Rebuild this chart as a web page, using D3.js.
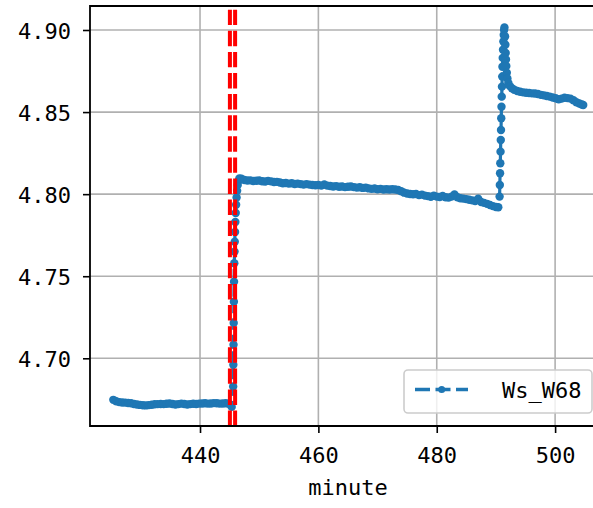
<!DOCTYPE html>
<html><head><meta charset="utf-8">
<script src="https://cdn.jsdelivr.net/npm/d3@7"></script>
<style>body{margin:0;background:#fff}svg{display:block}</style>
</head><body>
<svg id="chart" width="593" height="508"></svg>
<script>
// ---- data ----
// baseline before the step
const minutesA = [425.35,425.85,426.35,426.85,427.35,427.85,428.35,428.85,429.35,429.85,
  430.35,430.85,431.35,431.85,432.35,432.85,433.35,433.85,434.35,434.85,
  435.35,435.85,436.35,436.85,437.35,437.85,438.35,438.85,439.35,439.85,
  440.35,440.85,441.35,441.85,442.35,442.85,443.35,443.85,444.35,444.85,445.35];
const valuesA = [4.6747,4.6738,4.6733,4.6731,4.6730,4.6728,4.6726,4.6722,4.6719,4.6716,
  4.6714,4.6713,4.6715,4.6717,4.6720,4.6721,4.6722,4.6721,4.6723,4.6725,
  4.6722,4.6719,4.6721,4.6724,4.6722,4.6719,4.6721,4.6723,4.6722,4.6724,
  4.6725,4.6726,4.6724,4.6725,4.6727,4.6726,4.6724,4.6725,4.6726,4.6723,4.6704];
// first step up
const minutesB = [445.60,445.63,445.66,445.69,445.72,445.75,445.79,445.83,445.87,445.92,
  445.97,446.03,446.10,446.18,446.27,446.37,446.50,446.65];
const valuesB = [4.6828,4.6960,4.7082,4.7215,4.7345,4.7467,4.7579,4.7650,4.7710,4.7770,
  4.7830,4.7885,4.7935,4.7980,4.8020,4.8055,4.8080,4.8095];
// plateau
const minutesC = [447.0,447.5,448.0,448.5,449.0,449.5,450.0,450.5,451.0,451.5,
  452.0,452.5,453.0,453.5,454.0,454.5,455.0,455.5,456.0,456.5,
  457.0,457.5,458.0,458.5,459.0,459.5,460.0,460.5,461.0,461.5,
  462.0,462.5,463.0,463.5,464.0,464.5,465.0,465.5,466.0,466.5,
  467.0,467.5,468.0,468.5,469.0,469.5,470.0,470.5,471.0,471.5,
  472.0,472.5,473.0,473.5,474.0,474.5,475.0,475.5,476.0,476.5,
  477.0,477.5,478.0,478.5,479.0,479.5,480.0,480.5,481.0,481.5,
  482.0,482.5,483.0,483.5,484.0,484.5,485.0,485.5,486.0,486.5,
  487.0,487.5,488.0,488.5,489.0,489.5,490.0];
const valuesC = [4.8094,4.8086,4.8083,4.8084,4.8080,4.8082,4.8083,4.8079,4.8077,4.8081,
  4.8078,4.8074,4.8075,4.8071,4.8066,4.8068,4.8064,4.8066,4.8062,4.8064,
  4.8061,4.8058,4.8061,4.8058,4.8056,4.8054,4.8056,4.8052,4.8059,4.8052,
  4.8050,4.8047,4.8049,4.8045,4.8047,4.8043,4.8045,4.8047,4.8043,4.8040,
  4.8042,4.8038,4.8040,4.8035,4.8032,4.8034,4.8030,4.8032,4.8028,4.8030,
  4.8028,4.8030,4.8028,4.8025,4.8018,4.8009,4.8004,4.8001,4.7999,4.8001,
  4.7994,4.7997,4.7991,4.7988,4.7984,4.7990,4.7985,4.7983,4.7989,4.7981,
  4.7979,4.7985,4.7998,4.7981,4.7975,4.7973,4.7970,4.7966,4.7962,4.7958,
  4.7972,4.7952,4.7947,4.7941,4.7934,4.7927,4.7922];
// second step up to the spike
const minutesD = [490.40,490.62,490.66,490.70,490.74,490.78,490.82,490.86,490.90,490.94,
  490.98,491.02,491.06,491.10,491.15,491.20,491.26,491.32,491.38,491.44];
const valuesD = [4.7920,4.7985,4.8056,4.8127,4.8188,4.8259,4.8330,4.8391,4.8462,4.8533,
  4.8594,4.8655,4.8716,4.8776,4.8830,4.8880,4.8930,4.8970,4.9000,4.9015];
// decay and tail
const minutesE = [491.55,491.60,491.65,491.70,491.76,491.84,491.94,492.10,492.35,492.70,
  493.1,493.6,494.1,494.6,495.1,495.6,496.1,496.6,497.1,497.6,
  498.1,498.6,499.1,499.6,500.1,500.6,501.1,501.6,502.1,502.6,
  503.1,503.6,504.1,504.5,504.75];
const valuesE = [4.8960,4.8910,4.8860,4.8820,4.8780,4.8740,4.8705,4.8678,4.8658,4.8645,
  4.8636,4.8628,4.8624,4.8620,4.8618,4.8616,4.8614,4.8613,4.8610,4.8605,
  4.8602,4.8598,4.8594,4.8589,4.8584,4.8578,4.8582,4.8587,4.8585,4.8582,
  4.8572,4.8560,4.8552,4.8546,4.8543];

const xTicks = [440, 460, 480, 500];
const yTicks = [4.70, 4.75, 4.80, 4.85, 4.90];
const eventLines = [445.05, 445.93];
const seriesLabel = "Ws_W68";
const xLabel = "minute";

// ---- build ----
const minutes = [].concat(minutesA, minutesB, minutesC, minutesD, minutesE);
const values = [].concat(valuesA, valuesB, valuesC, valuesD, valuesE);
const data = minutes.map((m, i) => ({m, v: values[i]}));

const W = 593, H = 508;
const L = 90, T = 6, R = 606, B = 426;
const blue = "#1f77b4";
const font = "'DejaVu Sans Mono', 'Liberation Mono', monospace";

const x = d3.scaleLinear().domain([421.41, 508.6]).range([L, R]);
const y = d3.scaleLinear().domain([4.65876, 4.91462]).range([B, T]);

const svg = d3.select("#chart");
svg.append("rect").attr("width", W).attr("height", H).attr("fill", "#fff");

svg.append("defs").append("clipPath").attr("id", "plot")
  .append("rect").attr("x", L).attr("y", T).attr("width", R - L).attr("height", B - T);

// grid
const grid = svg.append("g").attr("clip-path", "url(#plot)");
grid.selectAll("line.vx").data(xTicks).join("line")
  .attr("x1", d => x(d)).attr("x2", d => x(d)).attr("y1", T).attr("y2", B)
  .attr("stroke", "#b0b0b0").attr("stroke-width", 1.6);
grid.selectAll("line.hy").data(yTicks).join("line")
  .attr("y1", d => y(d)).attr("y2", d => y(d)).attr("x1", L).attr("x2", R)
  .attr("stroke", "#b0b0b0").attr("stroke-width", 1.6);

// series
const plot = svg.append("g").attr("clip-path", "url(#plot)");
plot.append("path").datum(data)
  .attr("d", d3.line().x(d => x(d.m)).y(d => y(d.v)))
  .attr("fill", "none").attr("stroke", blue).attr("stroke-width", 3.2)
  .attr("stroke-dasharray", "11.5,5");
plot.selectAll("circle").data(data).join("circle")
  .attr("cx", d => x(d.m)).attr("cy", d => y(d.v)).attr("r", 4.2)
  .attr("fill", blue);

// event lines (dash pattern starts at the bottom)
plot.selectAll("path.ev").data(eventLines).join("path")
  .attr("d", d => `M${x(d)},${B}L${x(d)},${T}`)
  .attr("stroke", "red").attr("stroke-width", 4).attr("fill", "none")
  .attr("stroke-dasharray", "15.4,5.7");

// axes
const xAxis = svg.append("g").attr("transform", `translate(0,${B})`)
  .call(d3.axisBottom(x).tickValues(xTicks).tickSize(7).tickFormat(d3.format("d")));
xAxis.select(".domain").remove();
xAxis.selectAll(".tick line").attr("stroke", "#000").attr("stroke-width", 1.6);
xAxis.selectAll(".tick text").attr("y", 37).attr("dy", null)
  .attr("font-family", font).attr("font-size", 22).attr("fill", "#000");

const yAxis = svg.append("g").attr("transform", `translate(${L},0)`)
  .call(d3.axisLeft(y).tickValues(yTicks).tickSize(7).tickFormat(d3.format(".2f")));
yAxis.select(".domain").remove();
yAxis.selectAll(".tick line").attr("stroke", "#000").attr("stroke-width", 1.6);
yAxis.selectAll(".tick text").attr("x", -19).attr("dy", 8.5)
  .attr("font-family", font).attr("font-size", 22).attr("fill", "#000");

// spines
svg.append("path")
  .attr("d", `M${L},${B}L${L},${T}L${R},${T}L${R},${B}Z`)
  .attr("fill", "none").attr("stroke", "#000").attr("stroke-width", 1.8);

// x label
svg.append("text").attr("x", (L + R) / 2).attr("y", 495)
  .attr("text-anchor", "middle").attr("font-family", font).attr("font-size", 22)
  .attr("fill", "#000").text(xLabel);

// legend
const lg = svg.append("g");
lg.append("rect").attr("x", 404).attr("y", 370).attr("width", 188).attr("height", 43)
  .attr("rx", 4).attr("fill", "#fff").attr("fill-opacity", 0.8)
  .attr("stroke", "#cccccc").attr("stroke-width", 1.6);
lg.append("line").attr("x1", 415).attr("x2", 468).attr("y1", 389.5).attr("y2", 389.5)
  .attr("stroke", blue).attr("stroke-width", 3.5).attr("stroke-dasharray", "15,5.5");
lg.append("circle").attr("cx", 441.7).attr("cy", 389.5).attr("r", 3.5).attr("fill", blue);
lg.append("text").attr("x", 502).attr("y", 398)
  .attr("font-family", font).attr("font-size", 22).attr("fill", "#000").text(seriesLabel);
</script>
</body></html>
